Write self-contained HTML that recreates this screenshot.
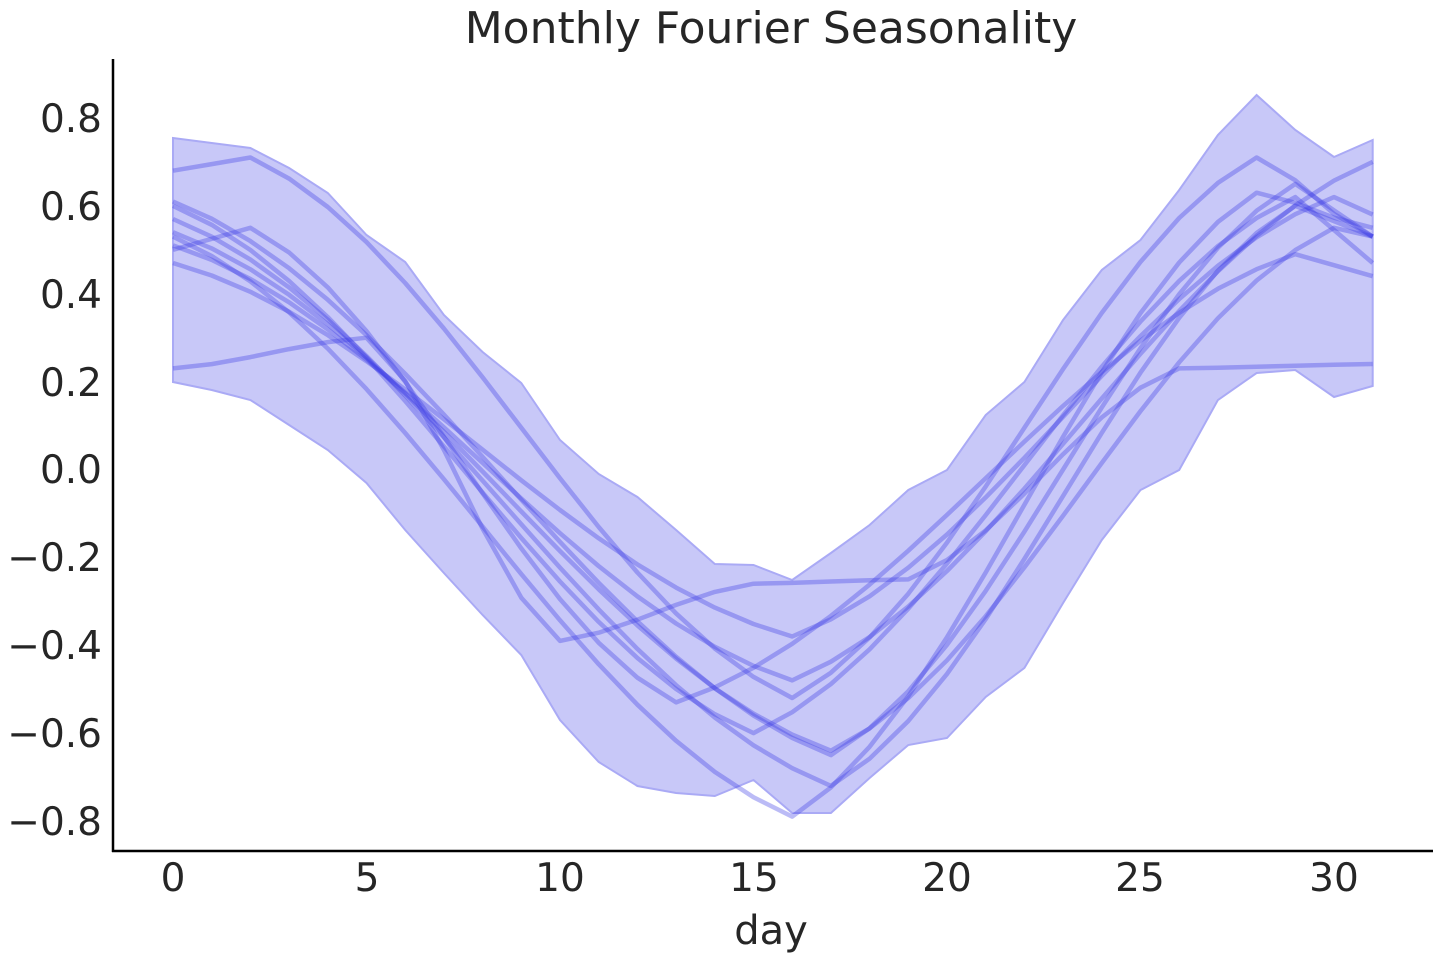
<!DOCTYPE html>
<html><head><meta charset="utf-8"><style>
html,body{margin:0;padding:0;background:#fff;}
svg{display:block;}
text{font-family:"DejaVu Sans","Liberation Sans",sans-serif;fill:#262626;}
</style></head><body>
<svg id="s" width="1440" height="960" viewBox="0 0 1440 960" xmlns="http://www.w3.org/2000/svg">
<text x="771" y="43" font-size="44" text-anchor="middle">Monthly Fourier Seasonality</text>
<g id="band"></g>
<g id="lines"></g>
<line x1="113" y1="59" x2="113" y2="852" stroke="#000" stroke-width="2.5"/>
<line x1="112" y1="851" x2="1433" y2="851" stroke="#000" stroke-width="2.5"/>
<g font-size="39" text-anchor="end">
<text x="102" y="132">0.8</text>
<text x="102" y="220">0.6</text>
<text x="102" y="308">0.4</text>
<text x="102" y="396">0.2</text>
<text x="102" y="483">0.0</text>
<text x="102" y="571">−0.2</text>
<text x="102" y="659">−0.4</text>
<text x="102" y="747">−0.6</text>
<text x="102" y="835">−0.8</text>
</g>
<g font-size="39" text-anchor="middle">
<text x="173" y="891">0</text>
<text x="367" y="891">5</text>
<text x="560" y="891">10</text>
<text x="754" y="891">15</text>
<text x="947" y="891">20</text>
<text x="1140" y="891">25</text>
<text x="1334" y="891">30</text>
</g>
<text x="771" y="944" font-size="40" text-anchor="middle">day</text>
</svg>
<script>
const X=d=>173+d*38.7, Y=v=>469.5-v*439.4;
const up=[138,143,148,168,193,235,262,315,352,383,440,474,497,530,564,565,580,553,525,490,470,415,382,320,270,240,190,135,95,130,157,140];
const lo=[382,390,400,425,450,483,530,573,615,655,720,762,786,793,796,780,813,813,778,745,738,697,668,603,540,490,470,400,373,370,397,386];
let p=up.map((y,i)=>X(i)+','+y).concat(lo.map((y,i)=>X(i)+','+y).reverse()).join(' ');
document.getElementById('band').innerHTML=`<polygon points="${p}" fill="rgb(200,200,248)" stroke="rgb(170,170,245)" stroke-width="2"/>`;
const L=[
[[0,0.68],[2,0.71],[16,-0.52],[28,0.71],[31,0.53]],
[[0,0.23],[5,0.30],[10,-0.39],[15,-0.26],[19,-0.25],[26,0.23],[31,0.24]],
[[0,0.61],[17,-0.65],[29,0.65],[31,0.53]],
[[0,0.50],[2,0.55],[13,-0.53],[29,0.49],[31,0.44]],
[[0,0.47],[16,-0.38],[30,0.62],[31,0.58]],
[[0,0.57],[17,-0.72],[29,0.60],[31,0.53]],
[[0,0.53],[16,-0.79],[28,0.63],[31,0.55]],
[[0,0.51],[16,-0.48],[31,0.70]],
[[0,0.54],[17,-0.64],[30,0.55],[31,0.53]],
[[0,0.60],[15,-0.60],[29,0.62],[31,0.47]]
];
let h='';
for(const k of L){let pts=[];
for(let d=0;d<=31;d++){let j=0;while(j<k.length-2&&d>k[j+1][0])j++;
const [a,va]=k[j],[b,vb]=k[j+1];let t=(d-a)/(b-a);t=Math.max(0,Math.min(1,t));
const s=0.55*(1-Math.cos(Math.PI*t))/2+0.45*t;
const v=va+(vb-va)*s;pts.push(X(d).toFixed(1)+','+Y(v).toFixed(1));}
h+=`<polyline points="${pts.join(' ')}" fill="none" stroke="rgb(60,60,230)" stroke-opacity="0.35" stroke-width="4.5" stroke-linejoin="round"/>`;}
document.getElementById('lines').innerHTML=h;
</script>
</body></html>
